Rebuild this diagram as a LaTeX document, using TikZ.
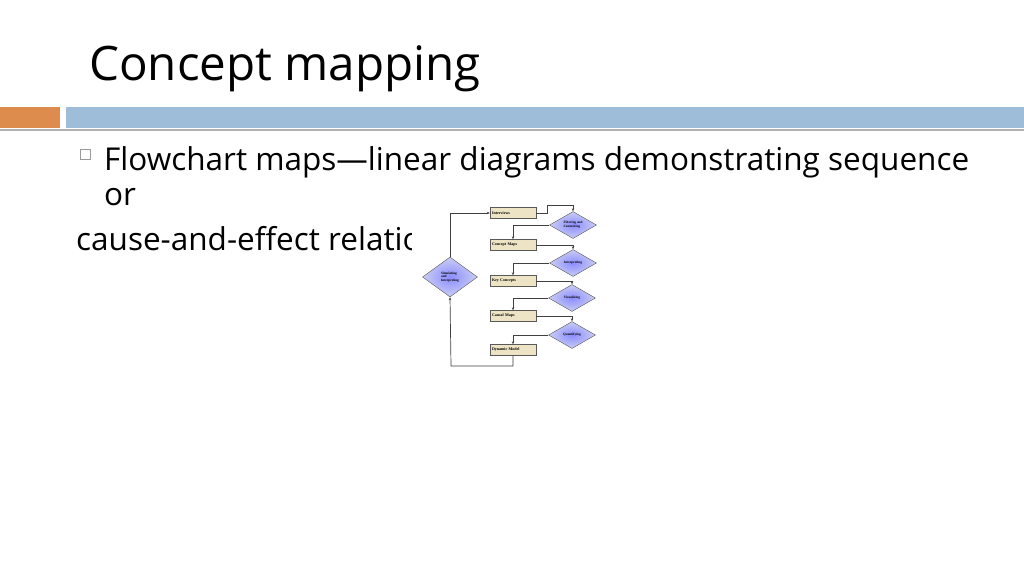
\documentclass[tikz,border=0pt]{standalone}
\usepackage{fontspec}
\setmainfont{Open Sans}
\newfontfamily\chartfont{Liberation Serif}
\usetikzlibrary{shapes.geometric,arrows.meta}
\definecolor{barblue}{HTML}{9DBDD8}
\definecolor{barorange}{HTML}{DE8B4E}
\definecolor{boxfill}{HTML}{ECE4C4}
\definecolor{diafill}{HTML}{C9CEF2}
\begin{document}
\begin{tikzpicture}[
  x=1pt, y=-1pt,
  stage/.style={draw=gray!70!black, fill=boxfill, minimum width=46pt, minimum height=11pt,
    inner sep=0pt, font=\chartfont\bfseries\fontsize{4}{4.4}\selectfont, text width=42pt, align=left},
  dec/.style={diamond, draw=gray!70!black, inner color=blue!45, outer color=diafill,
    minimum width=47pt, minimum height=27pt, inner sep=0pt, aspect=1.7,
    font=\chartfont\bfseries\fontsize{3.4}{3.8}\selectfont, align=left},
  link/.style={draw=black!75, line width=0.7pt, -{Stealth[length=3pt,width=2.5pt]}},
]
\useasboundingbox (0,0) rectangle (1024,575);
% title and bar
\node[anchor=base west, font=\fontsize{47.5}{54}\selectfont, inner sep=0pt] (title) at (89,81) {Concept mapping};
\fill[barorange] (0,107) rectangle (60,128);
\fill[barblue] (66,107) rectangle (1024,128);
\draw[gray!60, line width=1.5pt] (0,130) -- (1024,130);
% bullet text
\draw[gray!80, line width=0.8pt] (80,149) rectangle (90,159);
\node[anchor=base west, font=\fontsize{31.5}{36}\selectfont, inner sep=0pt] (line1) at (104,170) {Flowchart maps---linear diagrams demonstrating sequence};
\node[anchor=base west, font=\fontsize{31.5}{36}\selectfont, inner sep=0pt] (line2) at (104,205) {or};
\node[anchor=base west, font=\fontsize{31.5}{36}\selectfont, inner sep=0pt] (line3) at (76,250) {cause-and-effect relationships};
\fill[white] (412,198) rectangle (612,372);
% flowchart
\node[stage] (intv) at (513,213) {Interviews};
\node[stage] (cmap) at (513,245) {Concept Maps};
\node[stage] (keyc) at (513,281) {Key Concepts};
\node[stage] (caus) at (513,316) {Causal Maps};
\node[stage] (dyn) at (513,350) {Dynamic Model};
\node[dec] (filt) at (573,225) {Filtering and\\Connecting};
\node[dec] (intp) at (573,263) {Interpreting};
\node[dec] (visu) at (572,298) {Visualizing};
\node[dec] (quan) at (572,335) {Quantifying};
\node[dec, minimum width=55pt, minimum height=40pt, aspect=1.4] (simu) at (450,277) {Simulating\\and\\Interpreting};
\coordinate (c1) at (547,213);
\coordinate (c2) at (547,205);
\coordinate (c3) at (451,366);
\draw[link] (simu.north) |- (intv.west);
\draw[link] (intv.east) -- (c1) -- (c2) -| (filt.north);
\draw[link] (filt.west) -| (cmap.north);
\draw[link] (cmap.east) -| (intp.north);
\draw[link] (intp.west) -| (keyc.north);
\draw[link] (keyc.east) -| (visu.north);
\draw[link] (visu.west) -| (caus.north);
\draw[link] (caus.east) -| (quan.north);
\draw[link] (quan.west) -| (dyn.north);
\draw[link] (dyn.south) |- (c3) -- (simu.south);
\end{tikzpicture}
\end{document}
